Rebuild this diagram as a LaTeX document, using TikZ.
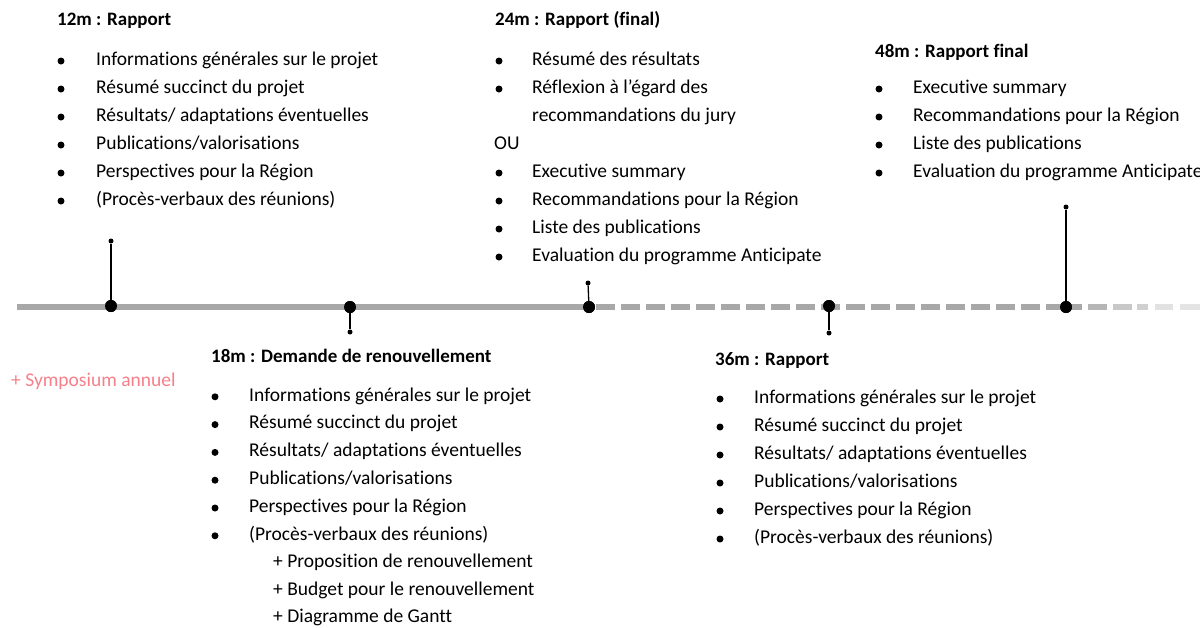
\documentclass[tikz,border=0pt]{standalone}
\usepackage{fontspec}
\setmainfont{Carlito}[Ligatures=NoCommon]
\definecolor{tl}{RGB}{168,168,168}
\definecolor{pinkt}{RGB}{245,128,138}
\begin{document}
\begin{tikzpicture}[x=1pt,y=-1pt,
  body/.style={anchor=west,inner sep=0pt,font=\fontsize{19.5}{22}\selectfont,text height=15.5pt,text depth=5pt},
  head/.style={anchor=west,inner sep=0pt,font=\fontsize{19}{22}\selectfont\bfseries,text height=15.5pt,text depth=5pt},
  bul/.style={circle,fill=black,inner sep=0pt,minimum size=7pt},
  big/.style={circle,fill=black,inner sep=0pt,minimum size=12pt},
  small/.style={circle,fill=black,inner sep=0pt,minimum size=5pt},
  stem/.style={line width=1.3pt},
  axis/.style={line width=6pt,tl}]
\useasboundingbox (0,0) rectangle (1200,627);

% timeline
\coordinate (start) at (17,307);
\coordinate (end) at (1200,307);
\node[big] (m12) at (111,306) {};
\node[big] (m18) at (350,307) {};
\node[big] (m24) at (589,307) {};
\node[big] (m36) at (829,306) {};
\node[big] (m48) at (1066,307) {};
\draw[axis] (start) -- (m24.center);
\draw[axis,dash pattern=on 19pt off 6pt,dash phase=-7pt] (m24.center) -- (m48.center);
\begin{scope}[line width=6pt]
\draw[tl] (1072,307) -- (1082,307);
\draw[color={rgb,255:red,182;green,182;blue,182}] (1088,307) -- (1107,307);
\draw[color={rgb,255:red,200;green,200;blue,200}] (1113,307) -- (1132,307);
\draw[color={rgb,255:red,208;green,208;blue,208}] (1137,307) -- (1148,307);
\draw[color={rgb,255:red,226;green,226;blue,226}] (1155,307) -- (1173,307);
\draw[color={rgb,255:red,228;green,228;blue,228}] (1180,307) -- (end);
\end{scope}
\node[big] at (m12) {};
\node[big] at (m18) {};
\node[big] at (m24) {};
\node[big] at (m36) {};
\node[big] at (m48) {};

% stems
\node[small] (s12) at (111,241) {};
\node[small] (s18) at (350,332) {};
\node[small] (s24) at (588,283) {};
\node[small] (s36) at (829,333) {};
\node[small] (s48) at (1066,207) {};
\draw[stem] (m12) -- (s12);
\draw[stem] (m18) -- (s18);
\draw[stem] (m24) -- (s24);
\draw[stem] (m36) -- (s36);
\draw[stem] (m48) -- (s48);

% 12m
\node[head] (h12) at (57,20) {12m : Rapport};
\foreach \t [count=\i] in {Informations générales sur le projet, Résumé succinct du projet, Résultats/ adaptations éventuelles, Publications/valorisations, Perspectives pour la Région, (Procès-verbaux des réunions)} {
  \node[bul] (a-b\i) at (61,{33+28*\i}) {};
  \node[body] (a-t\i) at (96,{32+28*\i}) {\t};
}

% 24m
\node[head] (h24) at (495,20) {24m : Rapport (final)};
\node[bul] (c-b1) at (499,61) {};
\node[body] (c-t1) at (532,60) {Résumé des résultats};
\node[bul] (c-b2) at (499,89) {};
\node[body] (c-t2) at (532,88) {Réflexion à l’égard des};
\node[body] (c-t3) at (532,116) {recommandations du jury};
\node[body] (c-ou) at (494,144) {OU};
\foreach \t [count=\i] in {Executive summary, Recommandations pour la Région, Liste des publications, Evaluation du programme Anticipate} {
  \node[bul] (c-b\i x) at (499,{145+28*\i}) {};
  \node[body] (c-t\i x) at (532,{144+28*\i}) {\t};
}

% 48m
\node[head] (h48) at (875,52) {48m : Rapport final};
\foreach \t [count=\i] in {Executive summary, Recommandations pour la Région, Liste des publications, Evaluation du programme Anticipate} {
  \node[bul] (e-b\i) at (879,{61+28*\i}) {};
  \node[body] (e-t\i) at (913,{60+28*\i}) {\t};
}

% 18m
\node[head] (h18) at (211,357) {18m : Demande de renouvellement};
\foreach \t [count=\i] in {Informations générales sur le projet, Résumé succinct du projet, Résultats/ adaptations éventuelles, Publications/valorisations, Perspectives pour la Région, (Procès-verbaux des réunions)} {
  \node[bul] (b-b\i) at (215,{369+27.8*\i}) {};
  \node[body] (b-t\i) at (249,{368+27.8*\i}) {\t};
}
\node[body] (b-p1) at (273,562) {+ Proposition de renouvellement};
\node[body] (b-p2) at (273,590) {+ Budget pour le renouvellement};
\node[body] (b-p3) at (273,617) {+ Diagramme de Gantt};
\node[body,text=pinkt] (sym) at (11,381) {+ Symposium annuel};

% 36m
\node[head] (h36) at (715,360) {36m : Rapport};
\foreach \t [count=\i] in {Informations générales sur le projet, Résumé succinct du projet, Résultats/ adaptations éventuelles, Publications/valorisations, Perspectives pour la Région, (Procès-verbaux des réunions)} {
  \node[bul] (d-b\i) at (720,{371+28*\i}) {};
  \node[body] (d-t\i) at (754,{370+28*\i}) {\t};
}
\end{tikzpicture}
\end{document}
